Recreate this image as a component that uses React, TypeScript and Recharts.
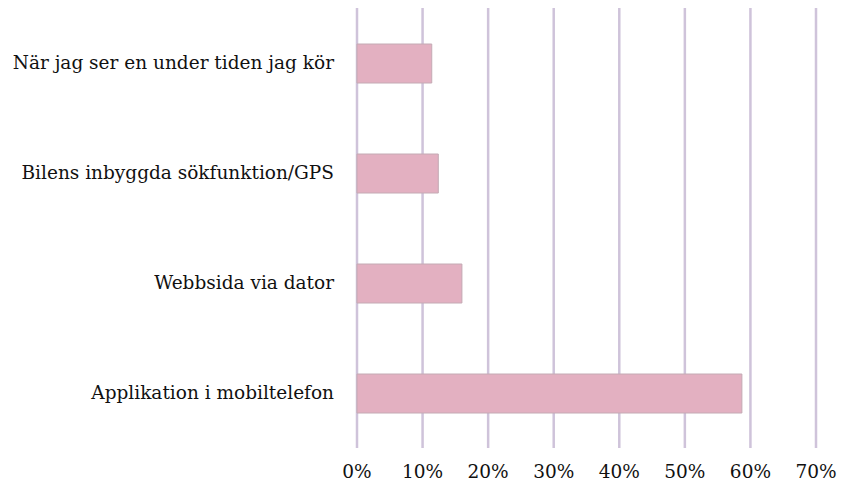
import React from 'react';
import { BarChart, Bar, XAxis, YAxis, CartesianGrid } from 'recharts';

const categories = [
  'När jag ser en under tiden jag kör',
  'Bilens inbyggda sökfunktion/GPS',
  'Webbsida via dator',
  'Applikation i mobiltelefon',
];
const shares = [11.4, 12.4, 16.0, 58.7];
const xTicks = [0, 10, 20, 30, 40, 50, 60, 70];

const data = categories.map((name, i) => ({ name, value: shares[i] }));

// Liberation Serif is not picked up in the sandbox, DejaVu Serif is
const font = 'DejaVu Serif';

const YTick = (props: any) => {
  const { x, y, payload } = props;
  return (
    <text x={x - 15} y={y} dy={6} textAnchor="end" fontSize={18.5} fill="#111" fontFamily={font}>
      {payload.value}
    </text>
  );
};

const XTick = (props: any) => {
  const { x, y, payload } = props;
  return (
    <text x={x} y={y + 8} dy={14} textAnchor="middle" fontSize={18.5} fill="#111" fontFamily={font}>
      {`${payload.value}%`}
    </text>
  );
};

export default function App() {
  return (
    <div style={{ position: 'absolute', left: 0, top: 0, width: 843, height: 491, background: '#fff' }}>
      <BarChart
        width={843}
        height={491}
        data={data}
        layout="vertical"
        margin={{ top: 8, right: 27, left: 0, bottom: 0 }}
        barCategoryGap={0}
      >
        <CartesianGrid horizontal={false} vertical stroke="#cfc3da" strokeWidth={2.5} />
        <XAxis
          type="number"
          domain={[0, 70]}
          ticks={xTicks}
          axisLine={false}
          tickLine={false}
          height={43}
          tick={<XTick />}
        />
        <YAxis
          type="category"
          dataKey="name"
          width={357}
          axisLine={false}
          tickLine={false}
          tick={<YTick />}
        />
        <Bar
          dataKey="value"
          barSize={39}
          fill="#e3b0c1"
          stroke="#c4aab4"
          strokeWidth={1}
          isAnimationActive={false}
        />
      </BarChart>
    </div>
  );
}
